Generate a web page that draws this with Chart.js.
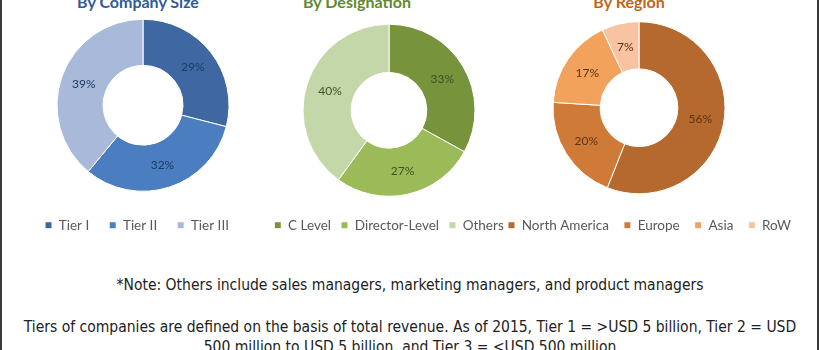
<!DOCTYPE html>
<html>
<head>
<meta charset="utf-8">
<script src="https://cdn.jsdelivr.net/npm/chart.js@4.4.1/dist/chart.umd.min.js"></script>
<style>
  html, body { margin: 0; padding: 0; background: #fff; }
  #page { position: relative; width: 820px; height: 350px; overflow: hidden; }
  #frame { position: absolute; left: 0; top: 0; width: 815px; height: 350px;
           border-left: 2px solid #3a3a3a; border-right: 2px solid #3a3a3a; }
  .box { position: absolute; top: 0; }
  .title { position: absolute; top: -8px; font: bold 16px Lato, sans-serif; white-space: nowrap;
           transform: translateX(-50%); }
  .note { position: absolute; left: 0; width: 820px; text-align: center; color: #222;
          font: 15.5px "Liberation Sans Narrow", "DejaVu Sans Condensed", sans-serif; }
</style>
</head>
<body>
<div id="page">
  <div id="frame"></div>

  <div class="title" style="left:138px; color:#2f5b97;">By Company Size</div>
  <div class="title" style="left:357px; color:#5f8a30;">By Designation</div>
  <div class="title" style="left:629px; color:#c0651a;">By Region</div>

  <div class="box" style="left:25px; width:236px; height:242px;"><canvas id="sizeChart"></canvas></div>
  <div class="box" style="left:249px; width:280px; height:242px;"><canvas id="desigChart"></canvas></div>
  <div class="box" style="left:472px; width:334px; height:242px;"><canvas id="regionChart"></canvas></div>

  <div class="note" style="top:276px;">*Note: Others include sales managers, marketing managers, and product managers</div>
  <div class="note" style="top:317px; line-height:20px;">Tiers of companies are defined on the basis of total revenue. As of 2015, Tier 1 = &gt;USD 5 billion, Tier 2 = USD<br>500 million to USD 5 billion, and Tier 3 = &lt;USD 500 million</div>
</div>

<script>
// shares (%) per breakdown
const sizeLabels = ["Tier I", "Tier II", "Tier III"];
const sizeValues = [29, 32, 39];

const desigLabels = ["C Level", "Director-Level", "Others"];
const desigValues = [33, 27, 40];

const regionLabels = ["North America", "Europe", "Asia", "RoW"];
const regionValues = [56, 20, 17, 7];

const blues = ["#3f68a3", "#4a7ec1", "#a8b9d9"];
const greens = ["#77933c", "#9bbb59", "#c4d7a8"];
const oranges = ["#b5692f", "#d07a37", "#f2a25a", "#f7c3a2"];

// writes the percentage in the middle of each ring segment
const pctLabels = {
  id: "pctLabels",
  afterDatasetsDraw(chart, args, opts) {
    const ctx = chart.ctx;
    const values = chart.data.datasets[0].data;
    ctx.save();
    ctx.font = "12px Lato, sans-serif";
    ctx.fillStyle = opts.color;
    ctx.textAlign = "center";
    ctx.textBaseline = "middle";
    chart.getDatasetMeta(0).data.forEach((arc, i) => {
      const p = arc.tooltipPosition();
      ctx.fillText(values[i] + "%", p.x, p.y);
    });
    ctx.restore();
  },
};

function makeDonut(id, labels, values, colors, labelColor, legendAlign, legendGap) {
  const ctx = document.getElementById(id).getContext("2d");
  return new Chart(ctx, {
    type: "doughnut",
    data: {
      labels: labels,
      datasets: [
        {
          data: values,
          backgroundColor: colors,
          borderColor: "#ffffff",
          borderWidth: 1,
          radius: 86,
          cutout: 43,
        },
      ],
    },
    options: {
      responsive: true,
      maintainAspectRatio: false,
      animation: false,
      layout: { padding: { top: 12 } },
      plugins: {
        legend: {
          display: true,
          position: "bottom",
          align: legendAlign,
          labels: {
            boxWidth: 7,
            boxHeight: 7,
            padding: legendGap,
            color: "#595959",
            font: { family: "Lato, sans-serif", size: 13.5 },
          },
        },
        tooltip: { enabled: false },
        pctLabels: { color: labelColor },
      },
    },
    plugins: [pctLabels],
  });
}

makeDonut("sizeChart", sizeLabels, sizeValues, blues, "#1f3a66", "start", 20);
makeDonut("desigChart", desigLabels, desigValues, greens, "#3f5222", "center", 10);
makeDonut("regionChart", regionLabels, regionValues, oranges, "#5a3414", "end", 15);
</script>
</body>
</html>
